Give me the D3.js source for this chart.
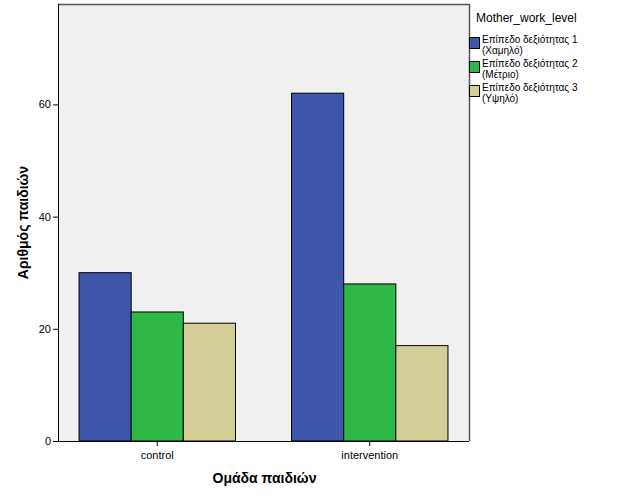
<!DOCTYPE html>
<html><head><meta charset="utf-8">
<script src="https://cdn.jsdelivr.net/npm/d3@7"></script>
<style>body{margin:0;background:#fff}svg{display:block}text{font-family:Arial,"Liberation Sans",sans-serif}</style>
</head><body>
<script>
const categories = ["control", "intervention"];
const seriesNames = ["Επίπεδο δεξιότητας 1", "Επίπεδο δεξιότητας 2", "Επίπεδο δεξιότητας 3"];
const seriesSub = ["(Χαμηλό)", "(Μέτριο)", "(Υψηλό)"];
const level1 = [30, 62];
const level2 = [23, 28];
const level3 = [21, 17];
const yTicks = [0, 20, 40, 60];
const colors = ["#3e57ab", "#2eb847", "#d4cf98"];

const series = [level1, level2, level3];
const W = 626, H = 501;
const svg = d3.select("body").append("svg").attr("width", W).attr("height", H);
const L = 58, R = 469, T = 4, B = 441;

const x = d3.scaleBand().domain(categories).range([L, R]).paddingInner(0.264).paddingOuter(0.099);
const xs = d3.scaleBand().domain(d3.range(series.length)).range([0, x.bandwidth()]);
const y = d3.scaleLinear().domain([0, 77.9]).range([B, T]);

svg.append("rect").attr("x", L).attr("y", T).attr("width", R - L).attr("height", B - T).attr("fill", "#f0f0f0");

const g = svg.append("g");
categories.forEach((c, i) => {
  series.forEach((s, j) => {
    g.append("rect")
      .attr("x", x(c) + xs(j)).attr("y", y(s[i]))
      .attr("width", xs.bandwidth()).attr("height", y(0) - y(s[i]))
      .attr("fill", colors[j]).attr("stroke", "#000").attr("stroke-width", 1);
  });
});

// frame top/right
svg.append("path").attr("d", `M${L},${T + 0.5}H${R + 0.5}V${B}`).attr("fill", "none").attr("stroke", "#555").attr("stroke-width", 1.5);

const ya = svg.append("g").attr("transform", `translate(${L},0)`)
  .call(d3.axisLeft(y).tickValues(yTicks).tickSize(5).tickPadding(2).tickFormat(d3.format("d")));
ya.select(".domain").attr("stroke", "#000").attr("d", `M0.5,${T}V${B}`);
ya.selectAll("text").attr("font-size", 11).attr("fill", "#000");

const xa = svg.append("g").attr("transform", `translate(0,${B})`)
  .call(d3.axisBottom(x).tickSize(5).tickPadding(5).tickSizeOuter(0));
xa.select(".domain").attr("stroke", "#000").attr("d", `M${L - 5},0.5H${R}`);
xa.selectAll("text").attr("font-size", 11).attr("fill", "#000");

svg.append("text").attr("x", (L + R) / 2 + 1).attr("y", 483).attr("text-anchor", "middle")
  .attr("font-size", 14).attr("font-weight", "bold").text("Ομάδα παιδιών");
svg.append("text").attr("transform", `translate(28,${(T + B) / 2})rotate(-90)`).attr("text-anchor", "middle")
  .attr("font-size", 14).attr("font-weight", "bold").text("Αριθμός παιδιών");

// legend
const lg = svg.append("g");
lg.append("text").attr("x", 476).attr("y", 22).attr("font-size", 12).text("Mother_work_level");
seriesNames.forEach((n, j) => {
  const yy = 37 + j * 24;
  lg.append("rect").attr("x", 469.5).attr("y", yy + 0.5).attr("width", 10).attr("height", 11)
    .attr("fill", colors[j]).attr("stroke", "#000");
  lg.append("text").attr("x", 482).attr("y", yy + 6).attr("font-size", 10).text(n);
  lg.append("text").attr("x", 482).attr("y", yy + 16.5).attr("font-size", 10).text(seriesSub[j]);
});
</script>
</body></html>
